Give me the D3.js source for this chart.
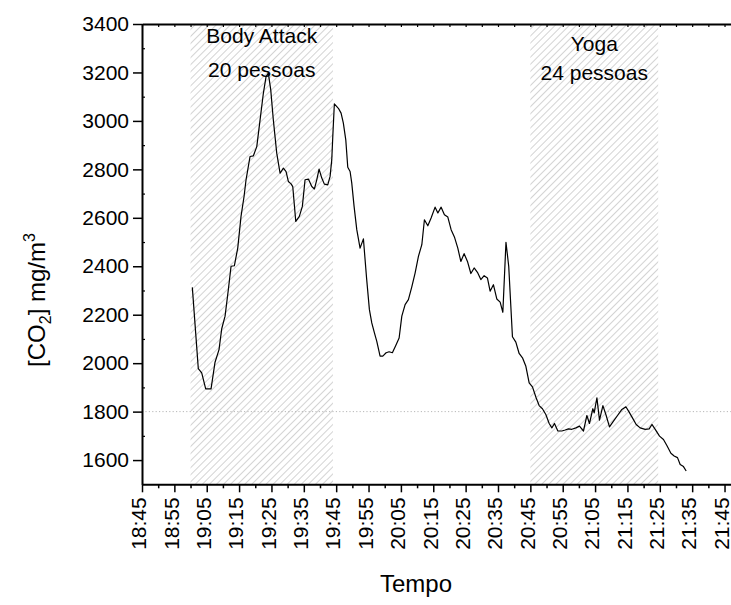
<!DOCTYPE html>
<html>
<head>
<meta charset="utf-8">
<script src="https://cdn.jsdelivr.net/npm/d3@7/dist/d3.min.js"></script>
<style>
  body { margin: 0; background: #fff; }
  svg { display: block; font-family: "Liberation Sans", Arial, sans-serif; }
</style>
</head>
<body>
<svg id="chart" width="731" height="605"></svg>
<script>
// CO2 readings over the evening (clock time, mg/m3)
const times = [
  "19:00:33","19:02:24","19:03:27","19:04:41","19:06:20","19:07:34","19:08:48","19:09:38","19:10:40","19:11:41",
  "19:12:31","19:13:32","19:14:35","19:15:36","19:16:32","19:17:09","19:18:23","19:19:25","19:20:28","19:21:29",
  "19:22:30","19:23:20","19:24:02","19:24:47","19:25:35","19:26:38","19:27:40","19:28:41","19:29:31","19:30:13",
  "19:31:04","19:31:35","19:32:31","19:33:37","19:34:33","19:35:23","19:36:25","19:37:28","19:38:16","19:39:00",
  "19:39:43","19:40:33","19:41:21","19:42:24","19:43:07","19:43:38","19:43:57","19:44:26","19:45:41","19:46:31",
  "19:47:13","19:47:58","19:48:35","19:49:18","19:49:49","19:50:32","19:51:22","19:52:23","19:53:25","19:54:24",
  "19:55:16","19:56:00","19:56:49","19:57:33","19:58:34","19:59:24","20:00:26","20:01:21","20:02:22","20:03:25",
  "20:04:27","20:05:17","20:06:18","20:07:19","20:08:22","20:09:23","20:10:25","20:11:28","20:12:16","20:13:19",
  "20:14:20","20:15:34","20:16:25","20:17:26","20:18:27","20:19:30","20:20:31","20:21:32","20:22:35","20:23:31",
  "20:24:32","20:25:34","20:26:37","20:27:38","20:28:39","20:29:42","20:30:43","20:31:44","20:32:34","20:33:35",
  "20:34:38","20:35:40","20:36:30","20:37:28","20:38:19","20:39:28","20:40:31","20:41:32","20:42:34","20:43:37",
  "20:44:38","20:45:39","20:46:47","20:47:43","20:48:44","20:49:47","20:50:49","20:51:39","20:52:27","20:53:30",
  "20:54:44","20:55:46","20:56:47","20:57:50","20:59:04","21:00:11","21:01:25","21:02:28","21:03:16","21:04:19",
  "21:04:43","21:05:34","21:06:22","21:07:25","21:08:26","21:09:27","21:10:41","21:11:56","21:13:17","21:14:31",
  "21:15:32","21:16:41","21:17:42","21:18:56","21:20:29","21:21:43","21:22:34","21:23:35","21:24:55","21:26:08",
  "21:27:11","21:28:26","21:29:26","21:30:28","21:31:18","21:32:19","21:33:09"
];
const co2 = [
  2313,1977,1960,1894,1894,2004,2056,2142,2194,2304,
  2400,2402,2475,2606,2688,2757,2853,2856,2894,3004,
  3114,3183,3197,3128,3004,2867,2784,2805,2791,2750,
  2740,2729,2585,2606,2647,2757,2760,2729,2719,2757,
  2801,2764,2739,2736,2771,2839,2935,3070,3052,3032,
  2991,2922,2809,2791,2743,2647,2551,2475,2513,2350,
  2221,2166,2125,2090,2029,2029,2043,2047,2043,2073,
  2104,2194,2242,2262,2315,2372,2441,2489,2592,2567,
  2599,2644,2620,2644,2613,2603,2551,2521,2475,2420,
  2452,2420,2370,2393,2375,2345,2361,2352,2297,2324,
  2265,2252,2210,2499,2400,2109,2087,2040,2022,1987,
  1919,1902,1857,1825,1812,1788,1751,1733,1751,1720,
  1720,1724,1729,1727,1733,1740,1720,1784,1751,1812,
  1795,1857,1765,1825,1784,1737,1761,1784,1809,1820,
  1798,1771,1747,1733,1727,1729,1747,1727,1699,1685,
  1660,1628,1617,1610,1582,1573,1555
];

// Class sessions shown as hatched bands
const sessionNames = ["Body Attack", "Yoga"];
const sessionPeople = ["20 pessoas", "24 pessoas"];
const sessionStart = ["19:00", "20:45"];
const sessionEnd = ["19:44", "21:24:30"];

// Axes
const xTickLabels = ["18:45","18:55","19:05","19:15","19:25","19:35","19:45","19:55","20:05","20:15",
                     "20:25","20:35","20:45","20:55","21:05","21:15","21:25","21:35","21:45"];
const xMinorLabels = ["18:50","19:00","19:10","19:20","19:30","19:40","19:50","20:00","20:10","20:20",
                      "20:30","20:40","20:50","21:00","21:10","21:20","21:30","21:40"];
const yTickValues = [1600,1800,2000,2200,2400,2600,2800,3000,3200,3400];
const yMinorValues = [1700,1900,2100,2300,2500,2700,2900,3100,3300];
const xDomain = ["18:45", "21:47"];
const yDomain = [1500, 3400];
const referenceLevel = 1800;

const parseClock = s => d3.timeParse("%H:%M:%S")(s.length === 5 ? s + ":00" : s);

const plotLeft = 142, plotRight = 731, plotTop = 24, plotBottom = 484.3;
const svg = d3.select("#chart");

const x = d3.scaleTime().domain(xDomain.map(parseClock)).range([plotLeft, plotRight]);
const y = d3.scaleLinear().domain(yDomain).range([plotBottom, plotTop]);

// hatch pattern
const defs = svg.append("defs");
const pat = defs.append("pattern")
  .attr("id", "hatch")
  .attr("patternUnits", "userSpaceOnUse")
  .attr("width", 5).attr("height", 5)
  .attr("patternTransform", "rotate(45)");
pat.append("line")
  .attr("x1", 0).attr("y1", 0).attr("x2", 0).attr("y2", 5)
  .attr("stroke", "#a8a8a8").attr("stroke-width", 1);

// session bands
const sessions = sessionNames.map((n, i) => ({
  name: n, people: sessionPeople[i],
  start: parseClock(sessionStart[i]), end: parseClock(sessionEnd[i])
}));
svg.append("g").selectAll("rect").data(sessions).join("rect")
  .attr("x", d => x(d.start))
  .attr("y", plotTop)
  .attr("width", d => x(d.end) - x(d.start))
  .attr("height", plotBottom - plotTop)
  .attr("fill", "url(#hatch)");

// reference level
svg.append("line")
  .attr("x1", plotLeft).attr("x2", plotRight)
  .attr("y1", y(referenceLevel)).attr("y2", y(referenceLevel))
  .attr("stroke", "#b8b8b8").attr("stroke-width", 1)
  .attr("stroke-dasharray", "1.2,2.2");

// session labels
const labelRows = [[43, 77], [51, 80]];
const lab = svg.append("g").attr("font-size", 21).attr("fill", "#000").attr("text-anchor", "middle");
sessions.forEach((d, i) => {
  const cx = (x(d.start) + x(d.end)) / 2;
  lab.append("text").attr("x", cx).attr("y", labelRows[i][0]).text(d.name);
  lab.append("text").attr("x", cx).attr("y", labelRows[i][1]).text(d.people);
});

// CO2 line
const data = times.map((t, i) => ({ t: parseClock(t), v: co2[i] }));
svg.append("path")
  .datum(data)
  .attr("fill", "none")
  .attr("stroke", "#000")
  .attr("stroke-width", 1.2)
  .attr("stroke-linejoin", "round")
  .attr("d", d3.line().x(d => x(d.t)).y(d => y(d.v)));

// bottom axis
const xAxis = d3.axisBottom(x)
  .tickValues(xTickLabels.map(parseClock))
  .tickFormat(d3.timeFormat("%H:%M"))
  .tickSize(8).tickSizeOuter(0);
const gx = svg.append("g").attr("transform", `translate(0,${plotBottom})`).call(xAxis);
gx.select(".domain").attr("stroke-width", 2);
gx.selectAll(".tick line").attr("stroke-width", 1.5);
gx.selectAll(".tick text")
  .attr("font-size", 21)
  .attr("fill", "#000")
  .attr("text-anchor", "end")
  .attr("transform", "rotate(-90)")
  .attr("x", -13).attr("y", 0).attr("dy", "0.18em");
const gxm = svg.append("g").attr("transform", `translate(0,${plotBottom})`)
  .call(d3.axisBottom(x).tickValues(xMinorLabels.map(parseClock)).tickFormat("").tickSize(4).tickSizeOuter(0));
gxm.select(".domain").remove();
gxm.selectAll(".tick line").attr("stroke-width", 1.5);

// top frame with inward ticks
const gt = svg.append("g").attr("transform", `translate(0,${plotTop})`)
  .call(d3.axisBottom(x).tickValues(xTickLabels.concat(xMinorLabels).map(parseClock)).tickFormat("").tickSize(3).tickSizeOuter(0));
gt.select(".domain").attr("stroke-width", 2);
gt.selectAll(".tick line").attr("stroke-width", 1.2);

// left axis
const yAxis = d3.axisLeft(y).tickValues(yTickValues).tickFormat(d3.format("d")).tickSize(9).tickSizeOuter(0);
const gy = svg.append("g").attr("transform", `translate(${plotLeft},0)`).call(yAxis);
gy.select(".domain").attr("stroke-width", 2);
gy.selectAll(".tick line").attr("stroke-width", 1.5);
gy.selectAll(".tick text").attr("font-size", 21).attr("fill", "#000").attr("x", -13);
const gym = svg.append("g").attr("transform", `translate(${plotLeft},0)`)
  .call(d3.axisRight(y).tickValues(yMinorValues).tickFormat("").tickSize(3).tickSizeOuter(0));
gym.select(".domain").remove();
gym.selectAll(".tick line").attr("stroke-width", 1.2);

// axis titles
svg.append("text")
  .attr("x", 416).attr("y", 592)
  .attr("text-anchor", "middle").attr("font-size", 24)
  .text("Tempo");

const yt = svg.append("text")
  .attr("transform", "translate(45,300) rotate(-90)")
  .attr("text-anchor", "middle").attr("font-size", 24);
yt.append("tspan").text("[CO");
yt.append("tspan").attr("font-size", 16).attr("dy", 6).text("2");
yt.append("tspan").attr("dy", -6).text("] mg/m");
yt.append("tspan").attr("font-size", 16).attr("dy", -10).text("3");
</script>
</body>
</html>
